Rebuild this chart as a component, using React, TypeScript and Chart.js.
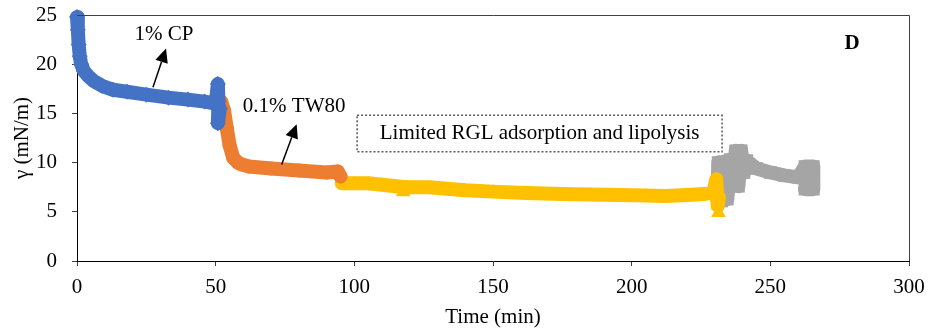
import React, { useEffect, useRef } from "react";
import { Chart, registerables } from "chart.js";

Chart.register(...registerables);

// 1% CP (blue diamonds)
const cpTime = [0, 0.3, 0.6, 1, 1.5, 2.5, 4, 6, 9, 13, 18, 25, 33, 40, 46, 50, 50.8, 51, 50.8, 51.5];
const cpTension = [24.8, 23.5, 22, 20.8, 20, 19.3, 18.8, 18.3, 17.8, 17.4, 17.2, 16.9, 16.6, 16.4, 16.2, 16.0, 18.0, 16.2, 14.0, 15.5];

// 0.1% TW80 (orange circles)
const twTime = [52, 53, 54, 55, 56.3, 58, 59.5, 62, 70, 80, 90, 94, 95];
const twTension = [16.2, 15.3, 13.5, 11.8, 10.5, 10.0, 9.8, 9.6, 9.4, 9.2, 9.0, 9.1, 8.6];

// RGL (yellow triangles)
const rglTime = [95.5, 100, 105, 110, 115, 119, 127, 140, 150, 162, 175, 185, 196, 205, 212, 220, 226, 229.5, 230.5, 231, 231.5];
const rglTension = [7.9, 7.9, 7.9, 7.75, 7.6, 7.5, 7.5, 7.2, 7.05, 6.9, 6.8, 6.75, 6.7, 6.65, 6.6, 6.7, 6.8, 7.0, 8.3, 5.6, 6.5];
// isolated RGL readings below the band
const rglDipTime = [117.6, 231.3];
const rglDipTension = [7.0, 4.9];

// final stage (gray squares)
const grayTime = [231, 231.2, 232.5, 233.5, 234.5, 235.5, 236.5, 237.5, 238.5, 239.5, 240.5, 241.5, 245, 250, 255, 260, 262.5, 265.5, 265.5, 262.5, 264];
const grayTension = [6.1, 10.0, 6.1, 10.1, 6.3, 10.3, 7.6, 11.2, 7.6, 11.2, 9.0, 10.2, 9.4, 9.0, 8.7, 8.5, 9.6, 9.6, 7.3, 7.3, 8.5];

const xTicks = [0, 50, 100, 150, 200, 250, 300];
const yTicks = [0, 5, 10, 15, 20, 25];

const FONT = '"Liberation Serif", "Times New Roman", serif';
const FS = 21;

const pts = (xs: number[], ys: number[]) => xs.map((x, i) => ({ x, y: ys[i] }));

const notes = {
  cp: { text: "1% CP", x: 31.4, y: 23.0, tail: [27.4, 17.65], head: [32.1, 21.6] },
  tw: { text: "0.1% TW80", x: 78.3, y: 15.7, tail: [73.8, 9.8], head: [79.2, 13.9] },
  box: { text: "Limited RGL adsorption and lipolysis", x1: 101, x2: 232.6, y1: 14.8, y2: 11.1 },
  panel: { text: "D", x: 279.5, y: 22.1 },
};

const annoPlugin = {
  id: "annos",
  afterDatasetsDraw(chart: any) {
    const { ctx, chartArea, scales } = chart;
    const xs = scales.x;
    const ys = scales.y;
    const px = (v: number) => xs.getPixelForValue(v);
    const py = (v: number) => ys.getPixelForValue(v);
    ctx.save();
    ctx.strokeStyle = "#404040";
    ctx.lineWidth = 1;
    ctx.beginPath();
    ctx.moveTo(Math.round(chartArea.left), Math.round(chartArea.top) + 0.5);
    ctx.lineTo(Math.round(chartArea.right) + 0.5, Math.round(chartArea.top) + 0.5);
    ctx.lineTo(Math.round(chartArea.right) + 0.5, Math.round(chartArea.bottom));
    ctx.stroke();

    ctx.fillStyle = "#000";
    ctx.textAlign = "center";
    ctx.textBaseline = "middle";
    ctx.font = `${FS}px ${FONT}`;

    const arrow = (t: number[], h: number[]) => {
      const x1 = px(t[0]), y1 = py(t[1]), x2 = px(h[0]), y2 = py(h[1]);
      const ang = Math.atan2(y2 - y1, x2 - x1);
      const L = 14, W = 6.5;
      const bx = x2 - L * Math.cos(ang), by = y2 - L * Math.sin(ang);
      ctx.strokeStyle = "#000";
      ctx.lineWidth = 1.5;
      ctx.beginPath();
      ctx.moveTo(x1, y1);
      ctx.lineTo(bx, by);
      ctx.stroke();
      ctx.beginPath();
      ctx.moveTo(x2, y2);
      ctx.lineTo(bx + W * Math.sin(ang), by - W * Math.cos(ang));
      ctx.lineTo(bx - W * Math.sin(ang), by + W * Math.cos(ang));
      ctx.closePath();
      ctx.fill();
    };

    ctx.fillText(notes.cp.text, px(notes.cp.x), py(notes.cp.y));
    arrow(notes.cp.tail, notes.cp.head);
    ctx.fillText(notes.tw.text, px(notes.tw.x), py(notes.tw.y));
    arrow(notes.tw.tail, notes.tw.head);

    const b = notes.box;
    const bx1 = px(b.x1), bx2 = px(b.x2), by1 = py(b.y1), by2 = py(b.y2);
    ctx.fillStyle = "#fff";
    ctx.fillRect(bx1, by1, bx2 - bx1, by2 - by1);
    ctx.setLineDash([2, 2]);
    ctx.strokeStyle = "#595959";
    ctx.lineWidth = 1.5;
    ctx.strokeRect(bx1, by1, bx2 - bx1, by2 - by1);
    ctx.setLineDash([]);
    ctx.fillStyle = "#000";
    ctx.fillText(b.text, (bx1 + bx2) / 2, (by1 + by2) / 2);

    ctx.font = `bold ${FS}px ${FONT}`;
    ctx.fillText(notes.panel.text, px(notes.panel.x), py(notes.panel.y));
    ctx.restore();
  },
};

const series = [
  { label: "1% CP", xs: cpTime, ys: cpTension, color: "#4472C4", style: "rectRot", r: 8, line: true },
  { label: "0.1% TW80", xs: twTime, ys: twTension, color: "#ED7D31", style: "circle", r: 7, line: true },
  { label: "RGL", xs: rglTime, ys: rglTension, color: "#FFC000", style: "triangle", r: 7.5, line: true },
  { label: "RGL dips", xs: rglDipTime, ys: rglDipTension, color: "#FFC000", style: "triangle", r: 8.5, line: false },
  { label: "End", xs: grayTime, ys: grayTension, color: "#A5A5A5", style: "rect", r: 9, line: true },
];

export default function App() {
  const ref = useRef<HTMLCanvasElement>(null);
  useEffect(() => {
    if (!ref.current) return;
    const chart = new Chart(ref.current, {
      type: "line",
      data: {
        datasets: series.map((s) => ({
          label: s.label,
          data: pts(s.xs, s.ys),
          borderColor: s.color,
          backgroundColor: s.color,
          borderWidth: 14,
          borderJoinStyle: "round",
          borderCapStyle: "round",
          showLine: s.line,
          pointStyle: s.style,
          pointRadius: s.r,
          pointBorderWidth: 0,
          pointBackgroundColor: s.color,
          tension: 0,
          clip: false,
        })) as any,
      },
      options: {
        responsive: false,
        animation: false,
        devicePixelRatio: 1,
        layout: { padding: { left: 0, top: 15, right: 20, bottom: 0 } },
        plugins: { legend: { display: false }, tooltip: { enabled: false } },
        scales: {
          x: {
            type: "linear",
            min: 0,
            max: 300,
            afterBuildTicks: (s: any) => { s.ticks = xTicks.map((v) => ({ value: v })); },
            afterFit: (s: any) => { s.height = 74; s.paddingLeft = 0; s.paddingRight = 0; },
            grid: { display: true, drawOnChartArea: false, drawTicks: true, tickLength: 5, color: "#404040" },
            border: { display: true, color: "#000", width: 1 },
            ticks: { color: "#000", font: { family: FONT, size: FS }, padding: 9, maxRotation: 0 },
            title: { display: true, text: "Time (min)", color: "#000", font: { family: FONT, size: FS }, padding: { top: 0, bottom: 5 } },
          },
          y: {
            type: "linear",
            min: 0,
            max: 25,
            afterBuildTicks: (s: any) => { s.ticks = yTicks.map((v) => ({ value: v })); },
            afterFit: (s: any) => { s.width = 77; s.paddingTop = 0; s.paddingBottom = 0; },
            grid: { display: true, drawOnChartArea: false, drawTicks: true, tickLength: 5, color: "#404040" },
            border: { display: true, color: "#000", width: 1 },
            ticks: { color: "#000", font: { family: FONT, size: FS }, padding: 15 },
            title: { display: true, text: "γ (mN/m)", color: "#000", font: { family: FONT, size: FS }, padding: { top: 10, bottom: 0 } },
          },
        },
      },
      plugins: [annoPlugin],
    });
    return () => chart.destroy();
  }, []);
  return (
    <div style={{ position: "absolute", left: 0, top: 0, width: 929, height: 335, background: "#fff" }}>
      <canvas ref={ref} width={929} height={335} />
    </div>
  );
}
